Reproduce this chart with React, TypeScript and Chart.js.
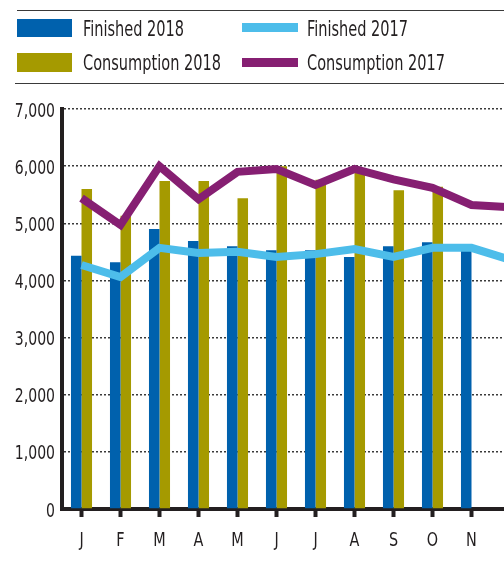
import React, { useEffect, useRef } from "react";
import { Chart, registerables } from "chart.js";

Chart.register(...registerables);

const months = ["J", "F", "M", "A", "M", "J", "J", "A", "S", "O", "N", "D"];
const finished2018 = [4430, 4320, 4900, 4690, 4600, 4530, 4530, 4410, 4600, 4670, 4520, null];
const consumption2018 = [5600, 5130, 5740, 5740, 5440, 6000, 5760, 5880, 5580, 5640, null, null];
const finished2017 = [4270, 4060, 4570, 4480, 4500, 4410, 4460, 4550, 4410, 4570, 4570, 4360];
const consumption2017 = [5440, 4970, 6000, 5420, 5900, 5950, 5670, 5950, 5770, 5620, 5320, 5280];
const yTicks = [0, 1000, 2000, 3000, 4000, 5000, 6000, 7000];

const FONT = "'DejaVu Sans Condensed', 'DejaVu Sans', sans-serif";
const TEXT = "#231f20";
const C_BLUE = "#0061ad";
const C_OLIVE = "#a59a00";
const C_LIGHT = "#4dbdea";
const C_PURPLE = "#861f72";

// draws axis labels horizontally condensed (like the reference's condensed face)
const condensedLabels = {
  id: "condensedLabels",
  afterDraw(chart: any) {
    const ctx = chart.ctx as CanvasRenderingContext2D;
    const xs = chart.scales.x;
    const ys = chart.scales.y;
    ctx.save();
    ctx.fillStyle = TEXT;
    ctx.font = `20px ${FONT}`;
    ctx.textBaseline = "alphabetic";
    ctx.textAlign = "right";
    for (const v of yTicks) {
      const label = v.toLocaleString("en-US");
      const y = ys.getPixelForValue(v);
      const w = ctx.measureText(label).width * 0.78;
      ctx.fillText(label, 55, y + 7.5, w);
    }
    ctx.textAlign = "center";
    months.forEach((m, i) => {
      const x = xs.getPixelForValue(i);
      const w = ctx.measureText(m).width * 0.8;
      ctx.fillText(m, x, 546, w);
    });
    ctx.restore();
  },
};

export default function App() {
  const ref = useRef<HTMLCanvasElement | null>(null);

  useEffect(() => {
    if (!ref.current) return;
    const chart = new Chart(ref.current, {
      type: "bar",
      data: {
        labels: months,
        datasets: [
          {
            type: "line",
            label: "Consumption 2017",
            data: consumption2017,
            borderColor: C_PURPLE,
            backgroundColor: C_PURPLE,
            borderWidth: 8,
            pointRadius: 0,
            tension: 0,
            borderJoinStyle: "miter",
            order: 0,
          } as any,
          {
            type: "line",
            label: "Finished 2017",
            data: finished2017,
            borderColor: C_LIGHT,
            backgroundColor: C_LIGHT,
            borderWidth: 8,
            pointRadius: 0,
            tension: 0,
            borderJoinStyle: "miter",
            order: 0,
          } as any,
          {
            label: "Finished 2018",
            data: finished2018,
            backgroundColor: C_BLUE,
            categoryPercentage: 0.54,
            barPercentage: 1,
            order: 1,
          },
          {
            label: "Consumption 2018",
            data: consumption2018,
            backgroundColor: C_OLIVE,
            categoryPercentage: 0.54,
            barPercentage: 1,
            order: 1,
          },
        ],
      },
      options: {
        responsive: false,
        animation: false,
        devicePixelRatio: 1,
        layout: { padding: { top: 109, right: 10, bottom: 0, left: 0 } },
        plugins: { legend: { display: false }, tooltip: { enabled: false } },
        scales: {
          x: {
            grid: {
              offset: false,
              drawOnChartArea: false,
              drawTicks: true,
              tickLength: 8,
              tickWidth: 4,
              tickColor: TEXT,
            },
            border: { display: true, width: 4, color: TEXT },
            ticks: { display: false, autoSkip: false, maxRotation: 0 },
            afterFit: (s: any) => {
              s.height = 53;
            },
          },
          y: {
            min: 0,
            max: 7000,
            afterBuildTicks: (s: any) => {
              s.ticks = yTicks.map((v) => ({ value: v }));
            },
            grid: {
              color: (ctx: any) => (ctx.tick && ctx.tick.value === 0 ? "rgba(0,0,0,0)" : "#3a3a3a"),
              lineWidth: 1.5,
              drawTicks: false,
            },
            border: { display: true, width: 4, color: TEXT, dash: [2, 2] },
            ticks: { display: false },
            afterFit: (s: any) => {
              s.width = 62;
            },
          },
        },
      },
      plugins: [condensedLabels],
    });
    return () => chart.destroy();
  }, []);

  const txt: React.CSSProperties = {
    position: "absolute",
    fontFamily: FONT,
    fontSize: 21,
    color: TEXT,
    height: 24,
    lineHeight: "24px",
    whiteSpace: "nowrap",
    transform: "scaleX(0.77)",
    transformOrigin: "left center",
  };
  const abs = (s: React.CSSProperties): React.CSSProperties => ({ position: "absolute", ...s });

  return (
    <div style={{ position: "absolute", left: 0, top: 0, width: 504, height: 562, overflow: "hidden", background: "#fff" }}>
      <canvas ref={ref} width={540} height={562} style={{ position: "absolute", left: 0, top: 0, width: 540, height: 562 }} />
      <div style={abs({ left: 17, top: 10, width: 487, height: 1, background: "#3a3a3a" })} />
      <div style={abs({ left: 15, top: 83, width: 489, height: 1, background: "#3a3a3a" })} />
      <div style={abs({ left: 17, top: 19, width: 55, height: 18, background: C_BLUE })} />
      <div style={{ ...txt, left: 83, top: 17 }}>Finished 2018</div>
      <div style={abs({ left: 242, top: 23, width: 56, height: 9, background: C_LIGHT })} />
      <div style={{ ...txt, left: 307, top: 16.5 }}>Finished 2017</div>
      <div style={abs({ left: 17, top: 53, width: 55, height: 19, background: C_OLIVE })} />
      <div style={{ ...txt, left: 83, top: 51 }}>Consumption 2018</div>
      <div style={abs({ left: 242, top: 58, width: 56, height: 9, background: C_PURPLE })} />
      <div style={{ ...txt, left: 307, top: 51 }}>Consumption 2017</div>
    </div>
  );
}
